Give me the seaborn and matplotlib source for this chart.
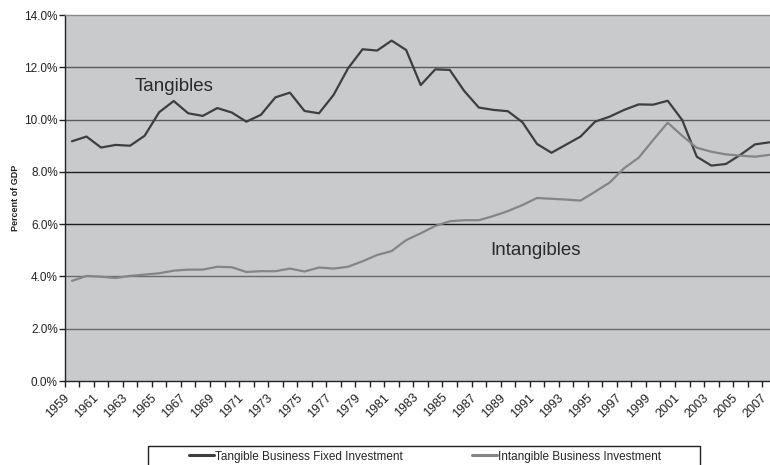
import numpy as np
import pandas as pd
import matplotlib
matplotlib.use("Agg")
import matplotlib.pyplot as plt
from matplotlib.patches import Rectangle
from matplotlib.transforms import ScaledTranslation
import seaborn as sns

years = list(range(1959, 2008))
tangible = [9.17, 9.35, 8.93, 9.03, 9.00, 9.38, 10.28, 10.71, 10.24, 10.14,
            10.44, 10.27, 9.92, 10.18, 10.85, 11.03, 10.33, 10.24, 10.94, 11.96,
            12.69, 12.64, 13.02, 12.66, 11.32, 11.92, 11.90, 11.09, 10.46, 10.37,
            10.32, 9.90, 9.07, 8.73, 9.04, 9.35, 9.92, 10.11, 10.37, 10.58,
            10.57, 10.72, 9.98, 8.58, 8.24, 8.30, 8.65, 9.05, 9.13]
intangible = [3.83, 4.02, 3.99, 3.94, 4.02, 4.07, 4.12, 4.22, 4.26, 4.26,
              4.37, 4.35, 4.17, 4.20, 4.20, 4.30, 4.19, 4.34, 4.30, 4.37,
              4.58, 4.82, 4.97, 5.39, 5.65, 5.93, 6.11, 6.15, 6.15, 6.31,
              6.50, 6.73, 7.00, 6.97, 6.94, 6.90, 7.24, 7.59, 8.14, 8.54,
              9.22, 9.88, 9.38, 8.92, 8.77, 8.67, 8.62, 8.58, 8.65]
series_names = ["Tangible Business Fixed Investment", "Intangible Business Investment"]
series_colors = ["#3e3e40", "#858587"]
y_ticks = [0, 2, 4, 6, 8, 10, 12, 14]
x_labels = [str(y) for y in years[::2]]

df = pd.DataFrame({
    "Year": years * 2,
    "Value": tangible + intangible,
    "Series": [series_names[0]] * len(years) + [series_names[1]] * len(years),
})

sns.set_theme(style="white")
plt.rcParams["font.family"] = ["Liberation Sans", "DejaVu Sans"]

fig = plt.figure(figsize=(7.7, 4.65), dpi=100)
W, H = 770, 465
ax = fig.add_axes([64.7 / W, 1 - 381 / H, 712 / W, 366 / H])
ax.set_facecolor("#c9cacc")

sns.lineplot(data=df, x="Year", y="Value", hue="Series", hue_order=series_names,
             palette=series_colors, linewidth=1.6, ax=ax, legend=False)

ax.set_xlim(years[0] - 0.5, years[-1] + 0.5)
ax.set_ylim(0, 14)
ax.set_yticks(y_ticks)
ax.set_yticklabels([f"{v:.1f}%" for v in y_ticks], fontsize=8.5, color="#222222")
ax.tick_params(axis="y", length=4, width=1, color="#222222", pad=1, direction="out", left=True)

# x axis: ticks at category boundaries, labels at centres every 2 years
ax.set_xticks([y - 0.5 for y in years] + [years[-1] + 0.5])
ax.set_xticklabels([])
ax.tick_params(axis="x", which="major", length=4, width=1, color="#222222", direction="out", bottom=True)
ax.set_xticks(years[::2], minor=True)
ax.set_xticklabels(x_labels, minor=True, rotation=45, ha="right", rotation_mode="anchor",
                   fontsize=9, color="#222222")
ax.tick_params(axis="x", which="minor", length=0, pad=5)
offset = ScaledTranslation(-0.085, -0.035, fig.dpi_scale_trans)
for lab in ax.get_xticklabels(minor=True):
    lab.set_transform(lab.get_transform() + offset)

# horizontal gridlines
grid_colors = {2: "#6a6a6a", 4: "#6a6a6a", 6: "#1e1e1e", 8: "#1e1e1e", 10: "#5a5a5a", 12: "#5a5a5a"}
for v, c in grid_colors.items():
    ax.axhline(v, color=c, linewidth=1.0, zorder=0.5)

for s in ["left", "bottom"]:
    ax.spines[s].set_color("#222222")
    ax.spines[s].set_linewidth(1.0)
ax.spines["top"].set_color("#8a8a8a")
ax.spines["top"].set_linewidth(1.0)
ax.spines["right"].set_visible(False)

ax.set_xlabel("")
ax.set_ylabel("Percent of GDP", fontsize=6.5, fontweight="bold", color="#222222", labelpad=3)

ax.text(1963.3, 11.25, "Tangibles", fontsize=13.5, color="#2a2a2a", ha="left", va="center")
ax.text(1987.8, 5.0, "Intangibles", fontsize=13.5, color="#2a2a2a", ha="left", va="center")

# legend
handles = [plt.Line2D([], [], color=c, linewidth=2.2) for c in series_colors]
fig.legend(handles, series_names, loc="center", bbox_to_anchor=(425 / W, 1 - 456.5 / H),
           ncol=2, frameon=False, fontsize=8.5, handlelength=2.1, handletextpad=0.1,
           columnspacing=5.9, borderpad=0)
fig.patches.append(Rectangle((148 / W, -0.05), 552 / W, 0.05 + (465 - 445.5) / H,
                             transform=fig.transFigure, fill=False, edgecolor="#222222",
                             linewidth=1.0))

fig.savefig("out.png", dpi=100)
